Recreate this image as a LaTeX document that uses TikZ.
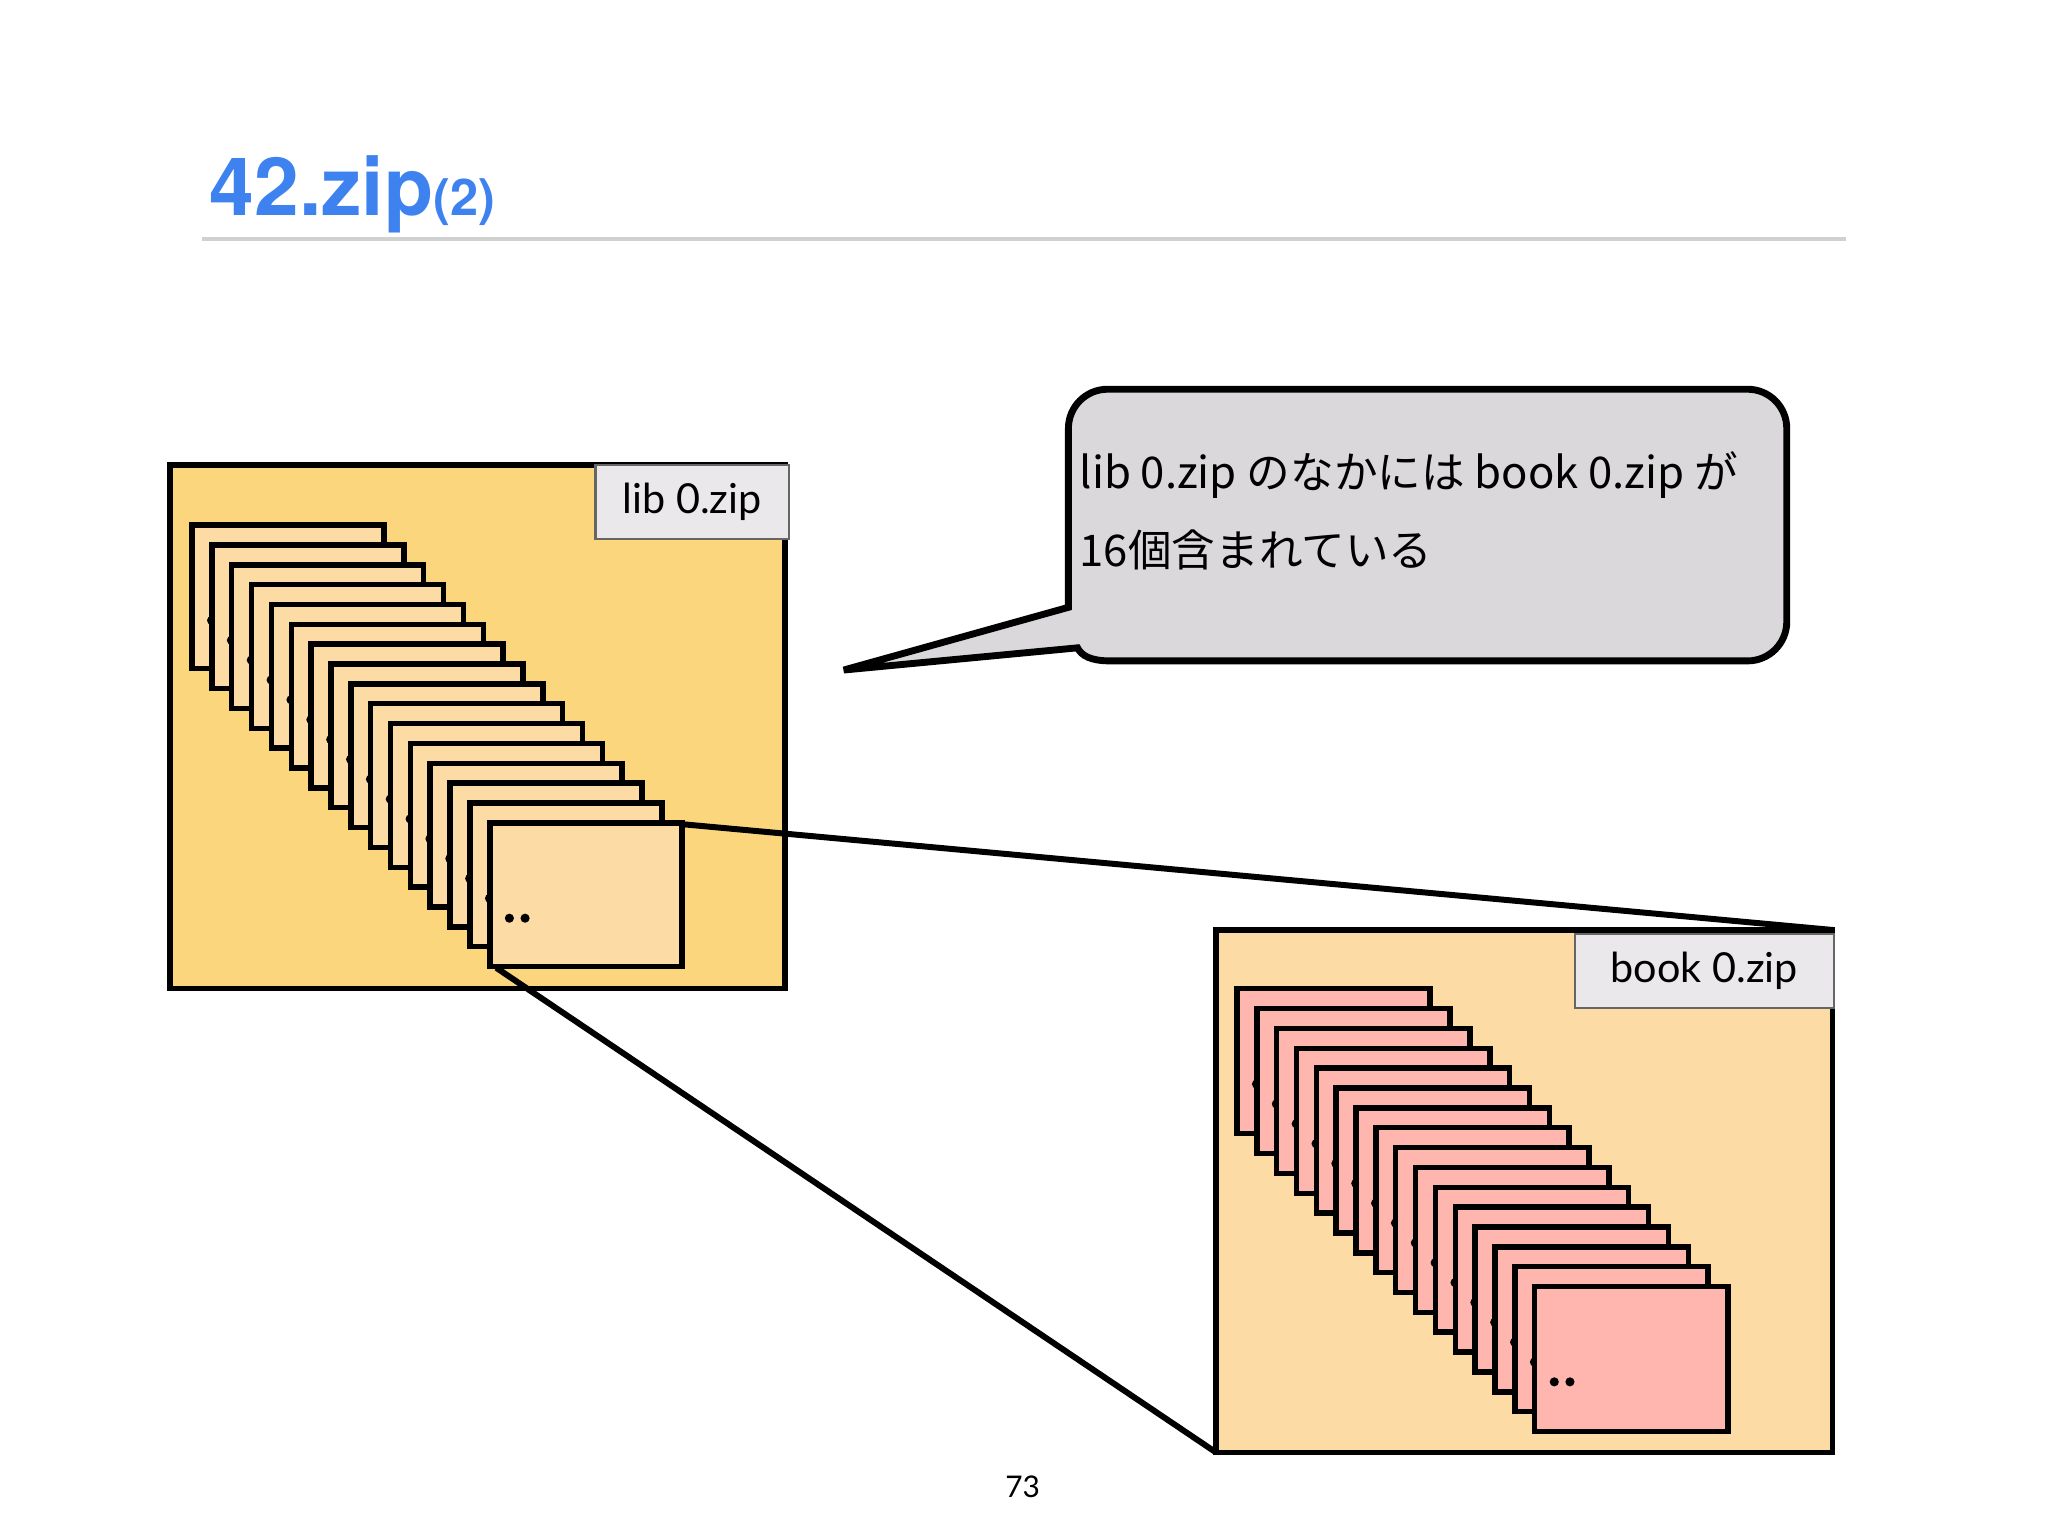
\documentclass[tikz,border=0pt]{standalone}
\usepackage{fontspec}
\setmainfont{Lato}
\newfontfamily\cjk{Noto Sans CJK JP}
\newfontfamily\heros{TeX Gyre Heros}
\begin{document}
\begin{tikzpicture}[x=0.01cm,y=-0.01cm,
  box/.style={draw=black,line width=1.2pt},
  lbl/.style={draw=black!60,fill=lblc,line width=0.5pt,inner sep=0pt,font=\fontsize{9}{10}\selectfont},
  conn/.style={line width=1.3pt}]
\definecolor{outerA}{HTML}{FBD67D}
\definecolor{cardA}{HTML}{FDDBA5}
\definecolor{cardB}{HTML}{FEB6AE}
\definecolor{lblc}{HTML}{EBE8EC}
\definecolor{callc}{HTML}{DAD8DB}
\definecolor{titlec}{HTML}{3E82F0}
\useasboundingbox (0,0) rectangle (1568,1176);
\fill[white] (0,0) rectangle (1568,1176);
% title
\node[anchor=base west,inner sep=0pt,text=titlec,font=\heros\bfseries\fontsize{17.5}{20}\selectfont] (title) at (160,165) {42.zip\fontsize{11}{12}\selectfont(2)};
\draw[black!18,line width=1pt] (155,183) -- (1413,183);
% left box
\draw[box,fill=outerA] (130,356) rectangle (601,757);
\node[lbl,minimum width=1.48cm,minimum height=0.57cm,anchor=north west] (libl) at (455,355) {lib 0.zip};
\foreach \i in {0,...,15}{
  \pgfmathsetmacro\xx{147+15.2*\i}
  \pgfmathsetmacro\yy{402+15.2*\i}
  \draw[box,fill=cardA] (\xx,\yy) rectangle ++(147,110);
  \fill (\xx+15,\yy+73) circle (3.5) (\xx+27,\yy+73) circle (3.5);
}
\coordinate (lc1) at (522,631);
\coordinate (lc2) at (380,741);
% right box
\draw[box,fill=cardA] (931,712) rectangle (1403,1112);
\node[lbl,minimum width=1.98cm,minimum height=0.57cm,anchor=north west] (bookl) at (1205,714) {book 0.zip};
\foreach \i in {0,...,15}{
  \pgfmathsetmacro\xx{947+15.2*\i}
  \pgfmathsetmacro\yy{757+15.2*\i}
  \draw[box,fill=cardB] (\xx,\yy) rectangle ++(148,111);
  \fill (\xx+15,\yy+73) circle (3.5) (\xx+27,\yy+73) circle (3.5);
}
\coordinate (rc1) at (1403,712);
\coordinate (rc2) at (931,1112);
\draw[conn] (lc1) -- (rc1);
\draw[conn] (lc2) -- (rc2);
% callout
\draw[box,fill=callc,line width=1.5pt]
  (818,465) -- (818,328) arc[start angle=180,end angle=270,radius=30]
  -- (1338,298) arc[start angle=270,end angle=360,radius=30]
  -- (1368,476) arc[start angle=0,end angle=90,radius=30]
  -- (850,506) .. controls (835,506) and (828,502) .. (825,496)
  -- (646,513) -- cycle;
\node[anchor=base west,inner sep=0pt,font=\cjk\fontsize{9.5}{11}\selectfont] (t1) at (826,374) {lib 0.zip のなかには book 0.zip が};
\node[anchor=base west,inner sep=0pt,font=\cjk\fontsize{9.5}{11}\selectfont] (t2) at (826,434) {16個含まれている};
\node[inner sep=0pt,font=\fontsize{6.5}{8}\selectfont] (pg) at (783,1138) {73};
\end{tikzpicture}
\end{document}
